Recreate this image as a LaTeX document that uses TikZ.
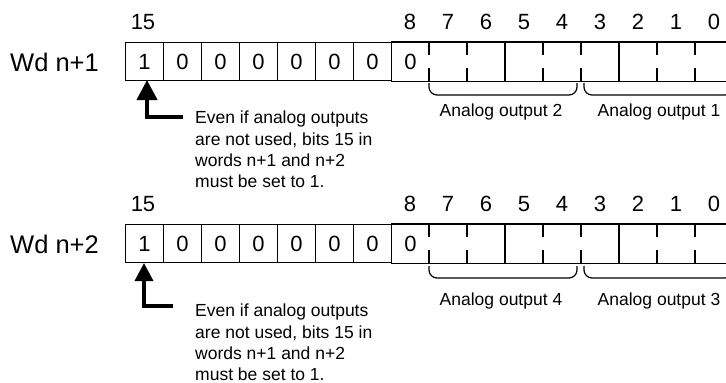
\documentclass[tikz,border=0pt]{standalone}
\usepackage{fontspec}
\setmainfont{Liberation Sans}
\usetikzlibrary{arrows.meta}
\begin{document}
\begin{tikzpicture}[x=1pt,y=-1pt,
  cell/.style={draw, line width=1.2pt, minimum width=38pt, minimum height=38pt, inner sep=0pt, font=\fontsize{22}{22}\selectfont, anchor=north west},
  opencell/.style={cell, draw=none},
  bitno/.style={font=\fontsize{22}{22}\selectfont, anchor=base, inner sep=0pt},
  wd/.style={font=\fontsize{25.5}{25.5}\selectfont, anchor=west, inner sep=0pt},
  note/.style={font=\fontsize{17.5}{21.2}\selectfont, align=left, anchor=north west, inner sep=0pt},
  outlbl/.style={font=\fontsize{17.5}{17.5}\selectfont, anchor=base, inner sep=0pt},
  frame/.style={line width=1.2pt},
  brk/.style={line width=1.2pt, rounded corners=8pt},
  bigarrowA/.style={line width=4pt, -{Triangle[width=20pt,length=20pt]}},
  bigarrowB/.style={line width=3.5pt, -{Triangle[width=18pt,length=18pt]}},
]
\path[use as bounding box, clip] (0,0) rectangle (726,383);

% ---------------- Row 1 ----------------
\node[wd] (wd1) at (10,62) {Wd n+1};
\foreach \i/\v in {0/1,1/0,2/0,3/0,4/0,5/0,6/0}
  \node[cell] (a\i) at ({125+38*\i},42) {\v};
\node[opencell] (a7) at ({125+38*7},42) {0};
\foreach \i in {8,...,15}
  \node[opencell] (a\i) at ({125+38*\i},42) {};
\draw[frame] (a7.north west) -- (a15.north east) (a7.south west) -- (a15.south east);
\draw[frame] (a10.north west) -- (a10.south west) (a13.north west) -- (a13.south west);
\foreach \i in {8,9,11,12,14,15}
  \draw[frame] (a\i.north west) -- ++(0,13) (a\i.south west) -- ++(0,-13);
\node[bitno] (b1-15) at ({125+18},29) {15};
\node[bitno] (b1-8) at ({125+38*7+19},29) {8};
\foreach \i/\n in {8/7,9/6,10/5,11/4,12/3,13/2,14/1,15/0}
  \node[bitno] (b1-\n) at ({125+38*\i+19},29) {\n};
\draw[brk] (429,83) -- (429,95) -- (577,95) -- (577,83);
\draw[brk] (584,83) -- (584,95) -- (733,95) -- (733,83);
\node[outlbl] (o2) at (501,116) {Analog output 2};
\node[outlbl] (o1) at (659,116) {Analog output 1};
\node[note] (n1) at (195,111) {Even if analog outputs\\are not used, bits 15 in\\words n+1 and n+2\\must be set to 1.};
\coordinate (k1) at (183,117);
\coordinate (t1) at (147,80);
\draw[bigarrowA] (k1) -| (t1);

% ---------------- Row 2 ----------------
\node[wd] (wd2) at (10,244) {Wd n+2};
\foreach \i/\v in {0/1,1/0,2/0,3/0,4/0,5/0,6/0}
  \node[cell] (c\i) at ({125+38*\i},224) {\v};
\node[opencell] (c7) at ({125+38*7},224) {0};
\foreach \i in {8,...,15}
  \node[opencell] (c\i) at ({125+38*\i},224) {};
\draw[frame] (c7.north west) -- (c15.north east) (c7.south west) -- (c15.south east);
\draw[frame] (c10.north west) -- (c10.south west) (c13.north west) -- (c13.south west);
\foreach \i in {8,9,11,12,14,15}
  \draw[frame] (c\i.north west) -- ++(0,13) (c\i.south west) -- ++(0,-13);
\node[bitno] (b2-15) at ({125+18},211) {15};
\node[bitno] (b2-8) at ({125+38*7+19},211) {8};
\foreach \i/\n in {8/7,9/6,10/5,11/4,12/3,13/2,14/1,15/0}
  \node[bitno] (b2-\n) at ({125+38*\i+19},211) {\n};
\draw[brk] (429,266) -- (429,278) -- (577,278) -- (577,266);
\draw[brk] (584,266) -- (584,278) -- (733,278) -- (733,266);
\node[outlbl] (o4) at (501,305.5) {Analog output 4};
\node[outlbl] (o3) at (659,305.5) {Analog output 3};
\node[note] (n2) at (195,304) {Even if analog outputs\\are not used, bits 15 in\\words n+1 and n+2\\must be set to 1.};
\coordinate (k2) at (173,306);
\coordinate (t2) at (144,263);
\draw[bigarrowB] (k2) -| (t2);
\end{tikzpicture}
\end{document}
